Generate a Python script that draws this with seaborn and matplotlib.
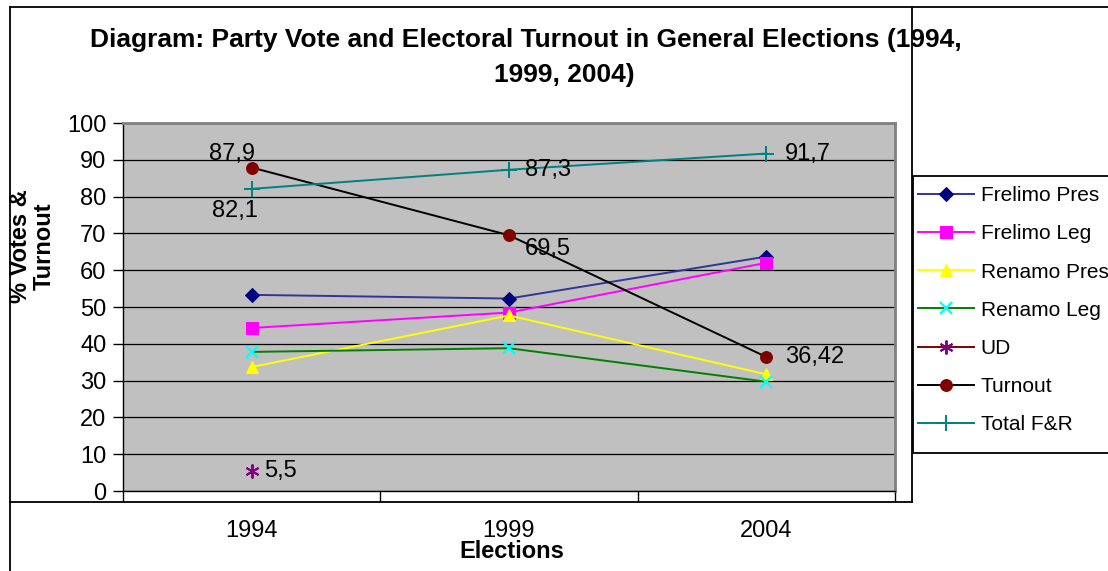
import numpy as np
import pandas as pd
import matplotlib
matplotlib.use("Agg")
import matplotlib.pyplot as plt
import seaborn as sns
from matplotlib.lines import Line2D
from matplotlib.patches import Rectangle

# ---- data ----
years = ["1994", "1999", "2004"]
frelimo_pres = [53.3, 52.3, 63.7]
frelimo_leg = [44.3, 48.5, 62.0]
renamo_pres = [33.7, 47.7, 31.7]
renamo_leg = [37.8, 38.8, 29.7]
ud = [5.5, np.nan, np.nan]
turnout = [87.9, 69.5, 36.42]
total_fr = [82.1, 87.3, 91.7]

series_names = ["Frelimo Pres", "Frelimo Leg", "Renamo Pres", "Renamo Leg",
                "UD", "Turnout", "Total F&R"]
series_values = [frelimo_pres, frelimo_leg, renamo_pres, renamo_leg,
                 ud, turnout, total_fr]

title_line1 = "Diagram: Party Vote and Electoral Turnout in General Elections (1994,"
title_line2 = "1999, 2004)"
y_label = "% Votes &\nTurnout"
x_label = "Elections"

# ---- styles ----
styles = {
    "Frelimo Pres": dict(color="#333399", marker="D", markersize=7,
                         markerfacecolor="#000080", markeredgecolor="#000080"),
    "Frelimo Leg": dict(color="#FF00FF", marker="s", markersize=8,
                        markerfacecolor="#FF00FF", markeredgecolor="#FF00FF"),
    "Renamo Pres": dict(color="#FFFF00", marker="^", markersize=9,
                        markerfacecolor="#FFFF00", markeredgecolor="#FFFF00"),
    "Renamo Leg": dict(color="#008000", marker="x", markersize=9,
                       markerfacecolor="#00FFFF", markeredgecolor="#00FFFF",
                       markeredgewidth=1.6),
    "UD": dict(color="#800000", marker=(6, 2, 0), markersize=10,
               markerfacecolor="#800080", markeredgecolor="#800080",
               markeredgewidth=1.4),
    "Turnout": dict(color="#000000", marker="o", markersize=8.5,
                    markerfacecolor="#800000", markeredgecolor="#800000"),
    "Total F&R": dict(color="#008080", marker="+", markersize=11,
                      markerfacecolor="#008080", markeredgecolor="#008080",
                      markeredgewidth=1.4),
}

plt.rcParams["font.family"] = ["Liberation Sans", "DejaVu Sans"]
FS = 17
TFS = 19
LFS = 15

W, H = 1108, 571
fig = plt.figure(figsize=(W / 100, H / 100), dpi=100)
fig.patch.set_facecolor("white")

def fx(px):
    return px / W

def fy(py):
    return 1 - py / H

ax = fig.add_axes([fx(123), fy(491), fx(895) - fx(123), fy(123) - fy(491)])
ax.set_facecolor("#C0C0C0")

positions = list(range(len(years)))
for name, vals in zip(series_names, series_values):
    df = pd.DataFrame({"pos": positions, "value": vals})
    sns.lineplot(data=df, x="pos", y="value", ax=ax, label=name,
                 linewidth=1.4, **styles[name])

# data labels
labels_spec = [
    (turnout, 0, -20, 14, "center"),
    (total_fr, 0, -17, -22, "center"),
    (total_fr, 1, 16, 0, "left"),
    (turnout, 1, 16, -14, "left"),
    (total_fr, 2, 19, 0, "left"),
    (turnout, 2, 19, 0, "left"),
    (ud, 0, 12, 0, "left"),
]
for vals, i, dx, dy, ha in labels_spec:
    v = vals[i]
    txt = ("%g" % v).replace(".", ",")
    ax.annotate(txt, xy=(positions[i], v), xytext=(dx, dy),
                textcoords="offset pixels", ha=ha, va="center",
                fontsize=FS, color="black")

ax.set_xlim(-0.5, len(years) - 0.5)
ax.set_ylim(0, 100)
ax.set_yticks(range(0, 101, 10))
ax.set_xticks(positions, years)
ax.set_xticks([p - 0.5 for p in positions] + [positions[-1] + 0.5], minor=True)
ax.tick_params(axis="x", which="major", length=0, pad=21, labelsize=FS)
ax.tick_params(axis="x", which="minor", length=7, width=1, color="black",
               direction="out")
ax.tick_params(axis="y", length=7, width=1, color="black", direction="out",
               labelsize=FS, pad=5)
ax.yaxis.grid(True, color="black", linewidth=0.9)
ax.xaxis.grid(False)
ax.set_axisbelow(True)
for s in ["left", "bottom"]:
    ax.spines[s].set_color("black")
    ax.spines[s].set_linewidth(1.0)
for s in ["top", "right"]:
    ax.spines[s].set_color("#808080")
    ax.spines[s].set_linewidth(2.0)
ax.set_xlabel("")
ax.set_ylabel("")
if ax.get_legend() is not None:
    ax.get_legend().remove()

fig.text(fx(512), fy(552), x_label, ha="center", va="center",
         fontsize=FS, fontweight="bold")
fig.text(fx(32), fy(246), y_label, ha="center", va="center", rotation=90,
         fontsize=FS, fontweight="bold", multialignment="center",
         linespacing=1.05)

fig.text(fx(526), fy(40), title_line1, ha="center", va="center",
         fontsize=TFS, fontweight="bold")
fig.text(fx(564), fy(75), title_line2, ha="center", va="center",
         fontsize=TFS, fontweight="bold")

# outer frame lines
frame_kw = dict(color="black", linewidth=1.3, transform=fig.transFigure)
fig.add_artist(Line2D([fx(10), fx(10)], [fy(7), fy(571)], **frame_kw))
fig.add_artist(Line2D([fx(10), fx(1108)], [fy(7), fy(7)], **frame_kw))
fig.add_artist(Line2D([fx(912), fx(912)], [fy(7), fy(502)], **frame_kw))
fig.add_artist(Line2D([fx(10), fx(912)], [fy(502), fy(502)], **frame_kw))

# legend
fig.add_artist(Rectangle((fx(913), fy(453)), fx(1130) - fx(913),
                         fy(176) - fy(453), transform=fig.transFigure,
                         facecolor="white", edgecolor="black", linewidth=1.3,
                         zorder=1))
handles, labels = ax.get_legend_handles_labels()
leg = fig.legend(handles, labels, loc="upper left",
                 bbox_to_anchor=(fx(914), fy(182)),
                 frameon=False, fontsize=LFS, handlelength=2.7,
                 handletextpad=0.3, labelspacing=0.92, borderpad=0.2,
                 borderaxespad=0)
leg.set_zorder(10)

fig.savefig("out.png", dpi=100)
